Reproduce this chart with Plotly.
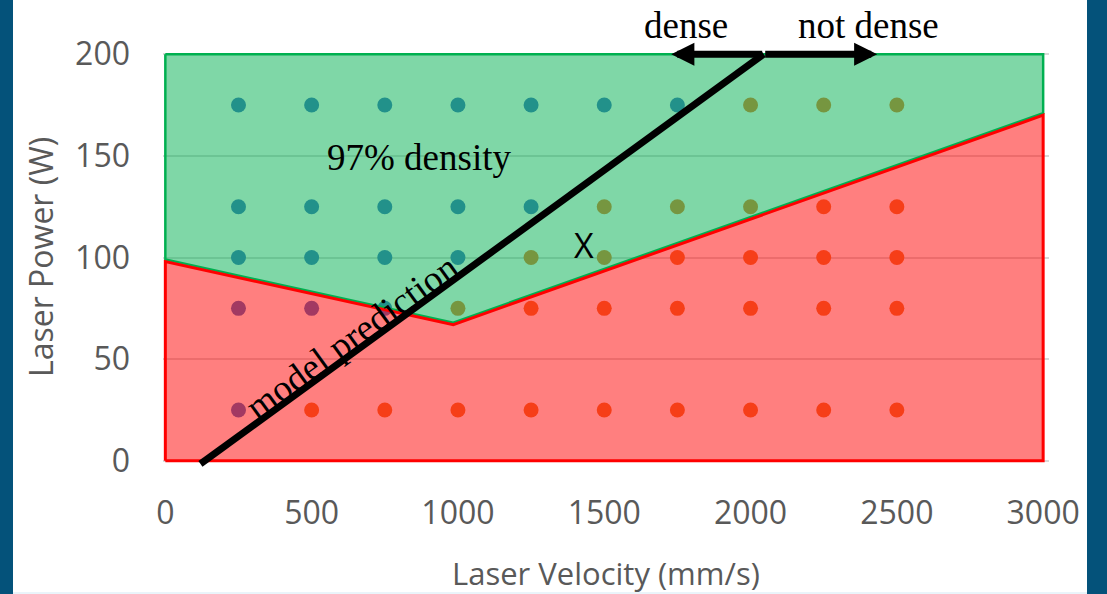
import plotly.graph_objects as go

# ---------------- data ----------------
dense_velocity = [250, 500, 750, 1000, 1250, 1500, 1750,
                  250, 500, 750, 1000, 1250,
                  250, 500, 750, 1000,
                  250, 500, 750,
                  250]
dense_power = [175, 175, 175, 175, 175, 175, 175,
               125, 125, 125, 125, 125,
               100, 100, 100, 100,
               75, 75, 75,
               25]

notdense_velocity = [2000, 2250, 2500,
                     1500, 1750, 2000, 2250, 2500,
                     1250, 1500, 1750, 2000, 2250, 2500,
                     1000, 1250, 1500, 1750, 2000, 2250, 2500,
                     500, 750, 1000, 1250, 1500, 1750, 2000, 2250, 2500]
notdense_power = [175, 175, 175,
                  125, 125, 125, 125, 125,
                  100, 100, 100, 100, 100, 100,
                  75, 75, 75, 75, 75, 75, 75,
                  25, 25, 25, 25, 25, 25, 25, 25, 25]

# 97% density region (green) and low-density region (red)
green_x = [0, 3000, 3000, 984, 0, 0]
green_y = [200, 200, 171, 68, 99, 200]
red_x = [0, 0, 984, 3000, 3000, 0]
red_y = [0, 98, 67, 170, 0, 0]

# model prediction line
model_x = [120, 2045]
model_y = [-1.5, 200]

x_ticks = [0, 500, 1000, 1500, 2000, 2500, 3000]
y_ticks = [0, 50, 100, 150, 200]

# ---------------- layout geometry ----------------
W, H = 1107, 594
ML, MR, MT, MB = 163, 58, 42, 125
PW, PH = W - ML - MR, H - MT - MB


def pxx(px):
    return (px - ML) / PW


def pxy(py):
    return (H - MB - py) / PH


fig = go.Figure()

# points (drawn first so the translucent regions tint them)
fig.add_trace(go.Scatter(x=dense_velocity, y=dense_power, mode="markers",
                         marker=dict(size=15, color="#4472C4"),
                         hoverinfo="skip", showlegend=False))
fig.add_trace(go.Scatter(x=notdense_velocity, y=notdense_power, mode="markers",
                         marker=dict(size=15, color="#ED7D31"),
                         hoverinfo="skip", showlegend=False))

# regions
fig.add_trace(go.Scatter(x=green_x, y=green_y, mode="lines", fill="toself",
                         fillcolor="rgba(0,176,80,0.5)",
                         line=dict(color="#00B050", width=2.5),
                         hoverinfo="skip", showlegend=False))
fig.add_trace(go.Scatter(x=red_x, y=red_y, mode="lines", fill="toself",
                         fillcolor="rgba(255,0,0,0.5)",
                         line=dict(color="#FF0000", width=3),
                         hoverinfo="skip", showlegend=False))

# model prediction line
fig.add_trace(go.Scatter(x=model_x, y=model_y, mode="lines",
                         line=dict(color="black", width=7),
                         hoverinfo="skip", showlegend=False))

serif = dict(family="Liberation Serif, Times New Roman, serif", size=37, color="black")
sans = "Open Sans, Noto Sans, sans-serif"

annotations = [
    # arrows
    dict(x=1729, y=200, ax=model_x[1], ay=model_y[1], xref="x", yref="y",
         axref="x", ayref="y", showarrow=True, arrowhead=2, arrowsize=0.66,
         arrowwidth=7, arrowcolor="black", text=""),
    dict(x=2433, y=200, ax=model_x[1], ay=model_y[1], xref="x", yref="y",
         axref="x", ayref="y", showarrow=True, arrowhead=2, arrowsize=0.66,
         arrowwidth=7, arrowcolor="black", text=""),
    dict(x=1781, y=pxy(26), text="dense", showarrow=False, font=serif,
         xref="x", yref="paper", yanchor="middle"),
    dict(x=2403, y=pxy(26), text="not dense", showarrow=False, font=serif,
         xref="x", yref="paper", yanchor="middle"),
    dict(x=868, y=149, text="97% density", showarrow=False, font=serif,
         xref="x", yref="y"),
    dict(x=639, y=61, text="model prediction", showarrow=False, font=serif,
         textangle=-36, xref="x", yref="y"),
    dict(x=1432, y=106, text="X", showarrow=False,
         font=dict(family=sans, size=34, color="black"), xref="x", yref="y"),
    # axis titles
    dict(x=pxx(606), y=pxy(573), xref="paper", yref="paper", showarrow=False,
         text="Laser Velocity (mm/s)", font=dict(family=sans, size=31, color="#595959"),
         xanchor="center", yanchor="middle"),
    dict(x=pxx(40), y=pxy(257), xref="paper", yref="paper", showarrow=False,
         text="Laser Power (W)", textangle=-90,
         font=dict(family=sans, size=32, color="#595959"),
         xanchor="center", yanchor="middle"),
]

shapes = [
    dict(type="rect", xref="paper", yref="paper", x0=pxx(0), x1=pxx(13),
         y0=pxy(H), y1=pxy(0), fillcolor="#04527A", line=dict(width=0), layer="above"),
    dict(type="rect", xref="paper", yref="paper", x0=pxx(1087), x1=pxx(W),
         y0=pxy(H), y1=pxy(0), fillcolor="#04527A", line=dict(width=0), layer="above"),
    dict(type="rect", xref="paper", yref="paper", x0=pxx(13), x1=pxx(1087),
         y0=pxy(H), y1=pxy(592), fillcolor="#EAF4FA", line=dict(width=0), layer="below"),
]

fig.update_layout(
    width=W, height=H,
    margin=dict(l=ML, r=MR, t=MT, b=MB, pad=0),
    paper_bgcolor="white", plot_bgcolor="white",
    showlegend=False,
    annotations=annotations,
    shapes=shapes,
    xaxis=dict(range=[-8, 3020], tickvals=x_ticks, ticktext=[str(v) for v in x_ticks],
               showgrid=False, zeroline=False, showline=False, ticks="",
               tickfont=dict(family=sans, size=32, color="#595959"),
               ticklabelstandoff=22, fixedrange=True),
    yaxis=dict(range=[-4, 206], tickvals=y_ticks, ticktext=[str(v) for v in y_ticks],
               showgrid=True, gridcolor="#D9D9D9", gridwidth=1.5,
               zeroline=False, showline=False, ticks="",
               tickfont=dict(family=sans, size=32, color="#595959"),
               ticklabelstandoff=32, fixedrange=True),
)

fig.write_html("out.html")
